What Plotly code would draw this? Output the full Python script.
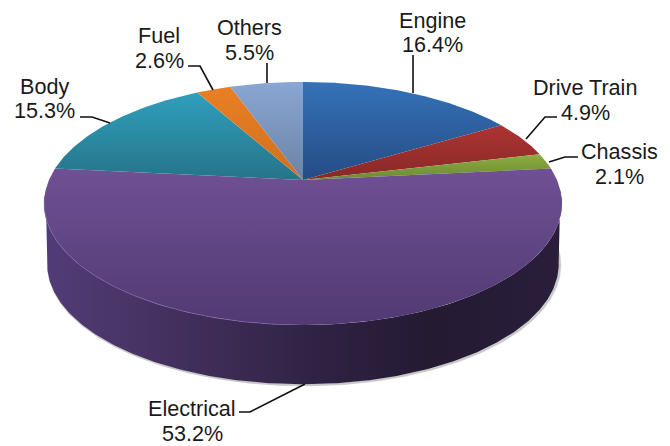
import numpy as np
import plotly.graph_objects as go

categories = ["Engine", "Drive Train", "Chassis", "Electrical", "Body", "Fuel", "Others"]
shares = [16.4, 4.9, 2.1, 53.2, 15.3, 2.6, 5.5]
top_colors = ["#3572b8", "#ac3432", "#8cae41", "#6f5094", "#2f9fbc", "#e97f24", "#8aa6d3"]
bottom_colors = ["#244c84", "#872927", "#6c8934", "#513a73", "#267489", "#d0701e", "#6b83a6"]
pct_labels = [f"{v}%" for v in shares]

# label placement: (centre x, first-line y, second-line y)
label_pos = [(432, 20, 44), (585, 87, 112), (619, 151, 176), (192, 408, 433),
             (44, 86, 110), (159, 35, 60), (249, 27, 52)]
leaders = [[(413, 55), (413, 93)],
           [(557, 117), (545, 117), (526, 139)],
           [(578, 157), (565, 157), (549, 162)],
           [(239, 412), (250, 412), (305, 384)],
           [(80, 117), (92, 117), (110, 123)],
           [(188, 66), (200, 66), (213, 90)],
           [(267, 63), (267, 83)]]

# projected disc (circle under perspective)
CX, CY = 303.0, 180.0
A, B, K = 254.0, 117.0, 0.193
DEPTH = 61.0


def rim(theta, cy=CY, scale=1.0, r=1.0):
    d = 1 + K * r * np.cos(theta)
    return CX + scale * A * r * np.sin(theta) / d, cy - scale * B * r * np.cos(theta) / d


fig = go.Figure()

# soft shadow below the side wall
t_low = np.linspace(np.radians(80), np.radians(280), 240)
for off, alpha in [(2.5, 0.10), (1.5, 0.20)]:
    sx, sy = rim(t_low, CY + DEPTH + off * 0.4, 0.988)
    fig.add_trace(go.Scatter(x=sx + off * 0.6, y=sy, mode="lines", hoverinfo="skip",
                             line=dict(color=f"rgba(60,60,60,{alpha})", width=2.5)))

# side wall
t_side = np.linspace(np.radians(100), np.radians(260), 240)
tx, ty = rim(np.linspace(np.radians(95), np.radians(265), 240))
bx, by = rim(t_side, CY + DEPTH, 0.988)
fig.add_trace(go.Scatter(
    x=np.r_[tx, bx[::-1]], y=np.r_[ty, by[::-1]], mode="lines", fill="toself",
    line=dict(width=0), hoverinfo="skip",
    fillgradient=dict(type="horizontal", start=44, stop=562,
                      colorscale=[[0, "#523c78"], [0.15, "#4a3568"], [0.35, "#3c2b54"],
                                  [0.55, "#2e2142"], [0.75, "#241a32"], [1, "#2a1e3b"]])))

# top slices
edges = np.cumsum(np.r_[0, shares]) / np.sum(shares) * 2 * np.pi
for i, name in enumerate(categories):
    t = np.linspace(edges[i], edges[i + 1], max(int(shares[i] * 6), 12))
    x, y = rim(t)
    px, py = np.r_[CX, x, CX], np.r_[CY, y, CY]
    fig.add_trace(go.Scatter(
        x=px, y=py, mode="lines", fill="toself", name=name, line=dict(width=0),
        text=f"{name}: {pct_labels[i]}", hoverinfo="text",
        fillgradient=dict(type="vertical", start=float(py.min()), stop=float(py.max()),
                          colorscale=[[0, top_colors[i]], [1, bottom_colors[i]]])))

# bevel highlight on the rim
hx, hy = rim(np.linspace(np.radians(185), np.radians(262), 120))
fig.add_trace(go.Scatter(x=hx, y=hy, mode="lines", hoverinfo="skip",
                         line=dict(color="rgba(125,100,165,0.7)", width=1.0)))

# leader lines
for pts in leaders:
    fig.add_trace(go.Scatter(x=[p[0] for p in pts], y=[p[1] for p in pts], mode="lines",
                             hoverinfo="skip", line=dict(color="#111111", width=1.6)))

# labels
font = dict(family="Liberation Sans, Arial, sans-serif", size=21.6, color="#1a1a1a")
for name, pct, (lx, y1, y2) in zip(categories, pct_labels, label_pos):
    fig.add_annotation(x=lx, y=y1, text=name, showarrow=False, font=font, borderpad=0,
                       xanchor="center", yanchor="middle")
    fig.add_annotation(x=lx, y=y2, text=pct, showarrow=False, font=font, borderpad=0,
                       xanchor="center", yanchor="middle")

fig.update_layout(
    width=670, height=446, margin=dict(l=0, r=0, t=0, b=0), showlegend=False,
    paper_bgcolor="white", plot_bgcolor="white",
    xaxis=dict(range=[0, 670], visible=False, fixedrange=True),
    yaxis=dict(range=[446, 0], visible=False, fixedrange=True),
)
fig.write_html("out.html", config={"displayModeBar": False},
               post_script="document.body.style.margin='0';")
